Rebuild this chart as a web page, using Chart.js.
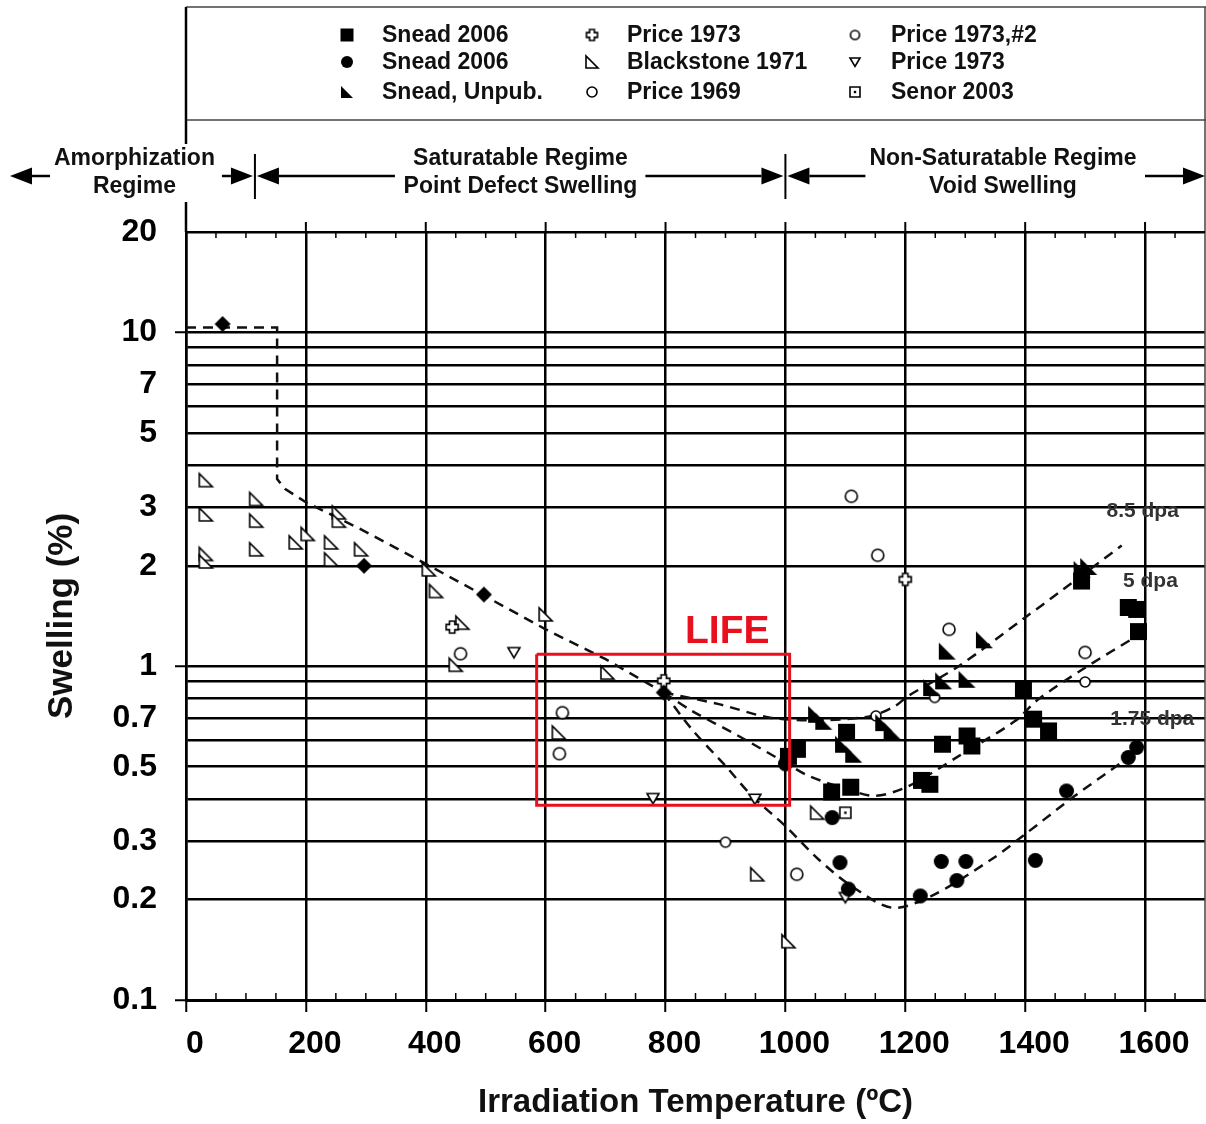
<!DOCTYPE html>
<html>
<head>
<meta charset="utf-8">
<title>Swelling vs irradiation temperature</title>
<script src="https://cdn.jsdelivr.net/npm/chart.js@4.4.1/dist/chart.umd.min.js"></script>
<style>
  html, body { margin: 0; padding: 0; background: #fff; }
  #wrap { width: 1206px; height: 1124px; }
</style>
</head>
<body>
<div id="wrap"><canvas id="swell" width="1206" height="1124"></canvas></div>
<script>
// values: irradiation temperature (C) -> swelling (%)
var sneadSqT = [1005, 1020, 1077, 1102, 1109, 1227, 1241, 1262, 1303, 1311, 1397, 1414, 1439, 1494, 1572, 1586, 1589];
var sneadSqS = [0.537, 0.564, 0.42, 0.634, 0.434, 0.455, 0.443, 0.584, 0.618, 0.577, 0.853, 0.694, 0.64, 1.80, 1.50, 1.48, 1.27];

var sneadDotT = [1000, 1078, 1091, 1105, 1225, 1260, 1286, 1301, 1417, 1469, 1572, 1586];
var sneadDotS = [0.51, 0.352, 0.258, 0.215, 0.205, 0.26, 0.228, 0.26, 0.262, 0.423, 0.533, 0.571];

var sneadUnpubT = [1052, 1064, 1097, 1114, 1164, 1178, 1244, 1264, 1303, 1270, 1332, 1495, 1506];
var sneadUnpubS = [0.718, 0.684, 0.584, 0.545, 0.678, 0.64, 0.863, 0.904, 0.914, 1.11, 1.20, 1.95, 1.99];

var diamondT = [61, 297, 497, 797];
var diamondS = [10.6, 2.0, 1.64, 0.834];

var price73T = [444, 797, 1200];
var price73S = [1.31, 0.904, 1.82];

var blackstoneT = [33, 33, 33, 33, 117, 117, 117, 183, 203, 242, 242, 255, 255, 292, 405, 417, 461, 450, 600, 703, 622, 953, 1005, 1053];
var blackstoneS = [3.61, 2.85, 2.17, 2.06, 3.17, 2.73, 2.24, 2.35, 2.49, 2.35, 2.09, 2.89, 2.73, 2.24, 1.95, 1.68, 1.35, 1.01, 1.43, 0.957, 0.633, 0.238, 0.150, 0.364];

var price69T = [458, 628, 623, 1019, 1110, 1154, 1273, 1500];
var price69S = [1.09, 0.726, 0.547, 0.238, 3.23, 2.15, 1.29, 1.10];

var price73bT = [900, 1151, 1249, 1500];
var price73bS = [0.297, 0.71, 0.806, 0.897];

var price73cT = [547, 779, 949, 1100];
var price73cS = [1.10, 0.402, 0.40, 0.203];

var senorT = [1100];
var senorS = [0.364];

// dashed trend lines
var trunkT = [0, 152, 152, 165, 200, 292, 397, 494, 600, 700, 797];
var trunkS = [10.35, 10.35, 3.64, 3.4, 3.1, 2.57, 2.04, 1.64, 1.29, 1.05, 0.834];
var upperT = [797, 889, 977, 1070, 1144, 1183, 1205, 1289, 1400, 1456, 1561];
var upperS = [0.834, 0.77, 0.70, 0.69, 0.71, 0.76, 0.815, 1.0, 1.40, 1.66, 2.3];
var middleT = [797, 844, 922, 1000, 1039, 1100, 1150, 1205, 1289, 1383, 1422, 1500, 1589];
var middleS = [0.834, 0.735, 0.618, 0.514, 0.469, 0.43, 0.409, 0.437, 0.538, 0.685, 0.796, 0.99, 1.24];
var lowerT = [797, 844, 900, 944, 1000, 1055, 1111, 1178, 1244, 1344, 1400, 1483, 1572];
var lowerS = [0.834, 0.647, 0.503, 0.409, 0.332, 0.264, 0.219, 0.189, 0.205, 0.264, 0.314, 0.409, 0.532];

// LIFE window
var lifeT = [585, 1007, 1007, 585, 585];
var lifeS = [1.086, 1.086, 0.383, 0.383, 1.086];

var dpaText = ['8.5 dpa', '5 dpa', '1.75 dpa'];
var dpaT = [1596, 1609, 1612];
var dpaS = [2.92, 1.80, 0.694];

var xTicks = [0, 200, 400, 600, 800, 1000, 1200, 1400, 1600];
var yGrid = [0.1, 0.2, 0.3, 0.4, 0.5, 0.6, 0.7, 0.8, 0.9, 1, 2, 3, 4, 5, 6, 7, 8, 9, 10, 20];
var yLabels = [0.1, 0.2, 0.3, 0.5, 0.7, 1, 2, 3, 5, 7, 10, 20];
var yDecades = [0.1, 1, 10];

var regimeEdges = [115, 1000];
var regimeLines = [['Amorphization', 'Regime'], ['Saturatable Regime', 'Point Defect Swelling'], ['Non-Saturatable Regime', 'Void Swelling']];
var regimeCenterT = [-86, 558, 1363];

var legendNames = ['Snead 2006', 'Snead 2006', 'Snead, Unpub.', 'Price 1973', 'Blackstone 1971', 'Price 1969', 'Price 1973,#2', 'Price 1973', 'Senor 2003'];

var FONT = "'Liberation Sans', Arial, sans-serif";

// marker images (the figure's symbols are not all chart.js built-ins)
function marker(kind, s) {
    var pad = 3;
    var c = document.createElement('canvas');
    c.width = c.height = Math.ceil(s + pad * 2);
    var g = c.getContext('2d');
    var m = c.width / 2, h = s / 2;
    g.fillStyle = '#000';
    g.strokeStyle = '#000';
    g.lineWidth = 1.6;
    g.beginPath();
    if (kind == 'square') {
        g.rect(m - h, m - h, s, s);
        g.fill();
    } else if (kind == 'dot') {
        g.arc(m, m, h, 0, 2 * Math.PI);
        g.fill();
    } else if (kind == 'diamond') {
        g.moveTo(m, m - h); g.lineTo(m + h, m); g.lineTo(m, m + h); g.lineTo(m - h, m);
        g.closePath();
        g.fill();
    } else if (kind == 'wedge' || kind == 'owedge') {
        g.moveTo(m - h, m - h); g.lineTo(m - h, m + h); g.lineTo(m + h, m + h);
        g.closePath();
        if (kind == 'wedge') {
            g.fill();
        } else {
            g.fillStyle = '#fff'; g.fill(); g.stroke();
        }
    } else if (kind == 'ring') {
        g.arc(m, m, h, 0, 2 * Math.PI);
        g.fillStyle = '#fff'; g.fill(); g.stroke();
    } else if (kind == 'down') {
        g.moveTo(m - h, m - h * 0.8); g.lineTo(m + h, m - h * 0.8); g.lineTo(m, m + h * 0.9);
        g.closePath();
        g.fillStyle = '#fff'; g.fill(); g.stroke();
    } else if (kind == 'plus') {
        var a = s * 0.22;
        var p = [[-a, -h], [a, -h], [a, -a], [h, -a], [h, a], [a, a], [a, h], [-a, h], [-a, a], [-h, a], [-h, -a], [-a, -a]];
        g.moveTo(m + p[0][0], m + p[0][1]);
        for (var i = 1; i < p.length; i++) g.lineTo(m + p[i][0], m + p[i][1]);
        g.closePath();
        g.fillStyle = '#fff'; g.fill(); g.stroke();
    } else if (kind == 'sqdot') {
        g.rect(m - h, m - h, s, s);
        g.fillStyle = '#fff'; g.fill(); g.stroke();
        g.fillStyle = '#000';
        g.fillRect(m - 1.2, m - 1.2, 2.4, 2.4);
    }
    return c;
}

var mk = {
    square: marker('square', 17), dot: marker('dot', 15), wedge: marker('wedge', 17),
    diamond: marker('diamond', 16), plus: marker('plus', 12), owedge: marker('owedge', 13),
    ring: marker('ring', 12), ringSmall: marker('ring', 10), down: marker('down', 12), sqdot: marker('sqdot', 11)
};
var legendMarks = [
    marker('square', 13), marker('dot', 12), marker('wedge', 12),
    marker('plus', 11), marker('owedge', 12), marker('ring', 10),
    marker('ring', 9), marker('down', 10), marker('sqdot', 10)
];

function pts(xs, ys) {
    return xs.map(function (x, i) { return { x: x, y: ys[i] }; });
}

function symbols(label, xs, ys, img) {
    return { label: label, data: pts(xs, ys), pointStyle: img, pointRadius: 6, showLine: false };
}

function dashed(label, xs, ys, tension) {
    return {
        label: label, data: pts(xs, ys), showLine: true, pointRadius: 0,
        borderColor: '#111', borderWidth: 2.5, borderDash: [10, 7], tension: tension, fill: false
    };
}

var datasets = [
    { label: 'LIFE', data: pts(lifeT, lifeS), showLine: true, pointRadius: 0, borderColor: '#e8101e', borderWidth: 3, tension: 0, fill: false },
    symbols('Snead 2006', sneadSqT, sneadSqS, mk.square),
    symbols('Snead 2006 ', sneadDotT, sneadDotS, mk.dot),
    symbols('Snead, Unpub.', sneadUnpubT, sneadUnpubS, mk.wedge),
    symbols('', diamondT, diamondS, mk.diamond),
    symbols('Price 1973', price73T, price73S, mk.plus),
    symbols('Blackstone 1971', blackstoneT, blackstoneS, mk.owedge),
    symbols('Price 1969', price69T, price69S, mk.ring),
    symbols('Price 1973,#2', price73bT, price73bS, mk.ringSmall),
    symbols('Price 1973 ', price73cT, price73cS, mk.down),
    symbols('Senor 2003', senorT, senorS, mk.sqdot),
    dashed('upper', upperT, upperS, 0.3),
    dashed('middle', middleT, middleS, 0.3),
    dashed('lower', lowerT, lowerS, 0.3),
    dashed('trunk', trunkT, trunkS, 0)
];

function line(ctx, x1, y1, x2, y2) {
    ctx.beginPath();
    ctx.moveTo(x1, y1);
    ctx.lineTo(x2, y2);
    ctx.stroke();
}

function arrow(ctx, from, to, y) {
    var dir = to > from ? 1 : -1, head = 22, half = 8.5;
    ctx.lineWidth = 2.5;
    line(ctx, from, y, to - dir * head, y);
    ctx.beginPath();
    ctx.moveTo(to, y);
    ctx.lineTo(to - dir * head, y - half);
    ctx.lineTo(to - dir * head, y + half);
    ctx.closePath();
    ctx.fill();
}

var figure = {
    id: 'figure',
    beforeDraw: function (chart) {
        var ctx = chart.ctx;
        ctx.save();
        ctx.fillStyle = '#fff';
        ctx.fillRect(0, 0, chart.width, chart.height);
        ctx.restore();
    },
    afterDraw: function (chart) {
        var ctx = chart.ctx, a = chart.chartArea, sx = chart.scales.x, sy = chart.scales.y;
        var i, v, x;
        ctx.save();

        // frame: legend box, regime strip, right edge
        ctx.strokeStyle = '#444';
        ctx.lineWidth = 1.5;
        line(ctx, a.left, 7, a.right + 1, 7);
        line(ctx, a.left, 120, a.right + 1, 120);
        line(ctx, a.right, 7, a.right, a.bottom);
        ctx.strokeStyle = '#000';
        ctx.lineWidth = 2.5;
        line(ctx, a.left, 7, a.left, a.top);
        ctx.lineWidth = 2;
        line(ctx, a.left, a.top, a.right, a.top);

        // minor ticks every 50 C on top and bottom, major ticks above the top edge
        ctx.lineWidth = 1.5;
        for (v = 50; v < 1700; v += 50) {
            x = sx.getPixelForValue(v);
            if (v % 200 == 0) {
                ctx.lineWidth = 2;
                line(ctx, x, a.top - 10, x, a.top);
                ctx.lineWidth = 1.5;
            } else {
                line(ctx, x, a.top, x, a.top + 6);
                line(ctx, x, a.bottom - 7, x, a.bottom);
            }
        }
        line(ctx, a.left, a.top - 10, a.left, a.top);

        // legend
        ctx.font = 'bold 23px ' + FONT;
        ctx.fillStyle = '#111';
        ctx.textBaseline = 'middle';
        ctx.textAlign = 'left';
        var colMark = [347, 592, 855], colText = [382, 627, 891], rowY = [35, 62, 92];
        for (i = 0; i < legendNames.length; i++) {
            var c = Math.floor(i / 3), r = i % 3, img = legendMarks[i];
            ctx.drawImage(img, colMark[c] - img.width / 2, rowY[r] - img.height / 2);
            ctx.fillText(legendNames[i], colText[c], rowY[r] + 1);
        }

        // regimes
        var bars = regimeEdges.map(function (t) { return sx.getPixelForValue(t); });
        ctx.fillStyle = '#fff';
        ctx.fillRect(48, 144, 172, 58);
        ctx.fillStyle = '#000';
        ctx.strokeStyle = '#000';
        ctx.lineWidth = 2;
        bars.forEach(function (b) { line(ctx, b, 154, b, 199); });
        var ay = 176;
        arrow(ctx, 50, 10, ay);
        arrow(ctx, bars[0] - 33, bars[0] - 2, ay);
        arrow(ctx, bars[0] + 140, bars[0] + 2, ay);
        arrow(ctx, bars[1] - 140, bars[1] - 2, ay);
        arrow(ctx, bars[1] + 80, bars[1] + 2, ay);
        arrow(ctx, 1145, a.right, ay);
        ctx.fillStyle = '#111';
        ctx.textAlign = 'center';
        for (i = 0; i < regimeLines.length; i++) {
            x = sx.getPixelForValue(regimeCenterT[i]);
            ctx.fillText(regimeLines[i][0], x, 159);
            ctx.fillText(regimeLines[i][1], x, 187);
        }

        // dose labels
        ctx.font = 'bold 21px ' + FONT;
        ctx.fillStyle = '#333';
        for (i = 0; i < dpaText.length; i++) {
            ctx.fillText(dpaText[i], sx.getPixelForValue(dpaT[i]), sy.getPixelForValue(dpaS[i]));
        }

        // LIFE tag
        ctx.font = 'bold 39px ' + FONT;
        ctx.fillStyle = '#e8101e';
        ctx.fillText('LIFE', sx.getPixelForValue(903), sy.getPixelForValue(1.26));
        ctx.restore();
    }
};

new Chart(document.getElementById('swell'), {
    type: 'scatter',
    data: { datasets: datasets },
    plugins: [figure],
    options: {
        responsive: false,
        animation: false,
        layout: { autoPadding: false, padding: { top: 232, left: 0, right: 1, bottom: 0 } },
        plugins: { legend: { display: false }, tooltip: { enabled: false } },
        scales: {
            x: {
                type: 'linear', min: 0, max: 1700,
                afterBuildTicks: function (s) { s.ticks = xTicks.map(function (v) { return { value: v }; }); },
                afterFit: function (s) { s.height = 124; s.paddingLeft = 0; s.paddingRight = 0; },
                ticks: {
                    autoSkip: false, maxRotation: 0, labelOffset: 9, padding: 13, color: '#000',
                    font: { family: FONT, size: 32, weight: 'bold' },
                    callback: function (v) { return String(v); }
                },
                grid: { color: '#000', lineWidth: 2.5, tickLength: 12, tickWidth: 2, tickColor: '#000' },
                border: { color: '#000', width: 3 },
                title: {
                    display: true, text: 'Irradiation Temperature (ºC)', color: '#111',
                    font: { family: FONT, size: 33, weight: 'bold' }, padding: { top: 0, bottom: 1 }
                }
            },
            y: {
                type: 'logarithmic', min: 0.1, max: 20,
                afterBuildTicks: function (s) { s.ticks = yGrid.map(function (v) { return { value: v }; }); },
                afterFit: function (s) { s.width = 186; s.paddingTop = 0; s.paddingBottom = 0; },
                ticks: {
                    autoSkip: false, padding: 18, color: '#000',
                    font: { family: FONT, size: 32, weight: 'bold' },
                    callback: function (v) { return yLabels.indexOf(v) >= 0 ? String(v) : ''; }
                },
                grid: {
                    color: '#000', lineWidth: 2.5, tickLength: 11, tickWidth: 2,
                    tickColor: function (c) { return c.tick && yDecades.indexOf(c.tick.value) >= 0 ? '#000' : 'rgba(0,0,0,0)'; }
                },
                border: { color: '#000', width: 2.5 },
                title: {
                    display: true, text: 'Swelling (%)', color: '#111',
                    font: { family: FONT, size: 35, weight: 'bold' }, padding: { top: 41, bottom: 0 }
                }
            }
        }
    }
});
</script>
</body>
</html>
